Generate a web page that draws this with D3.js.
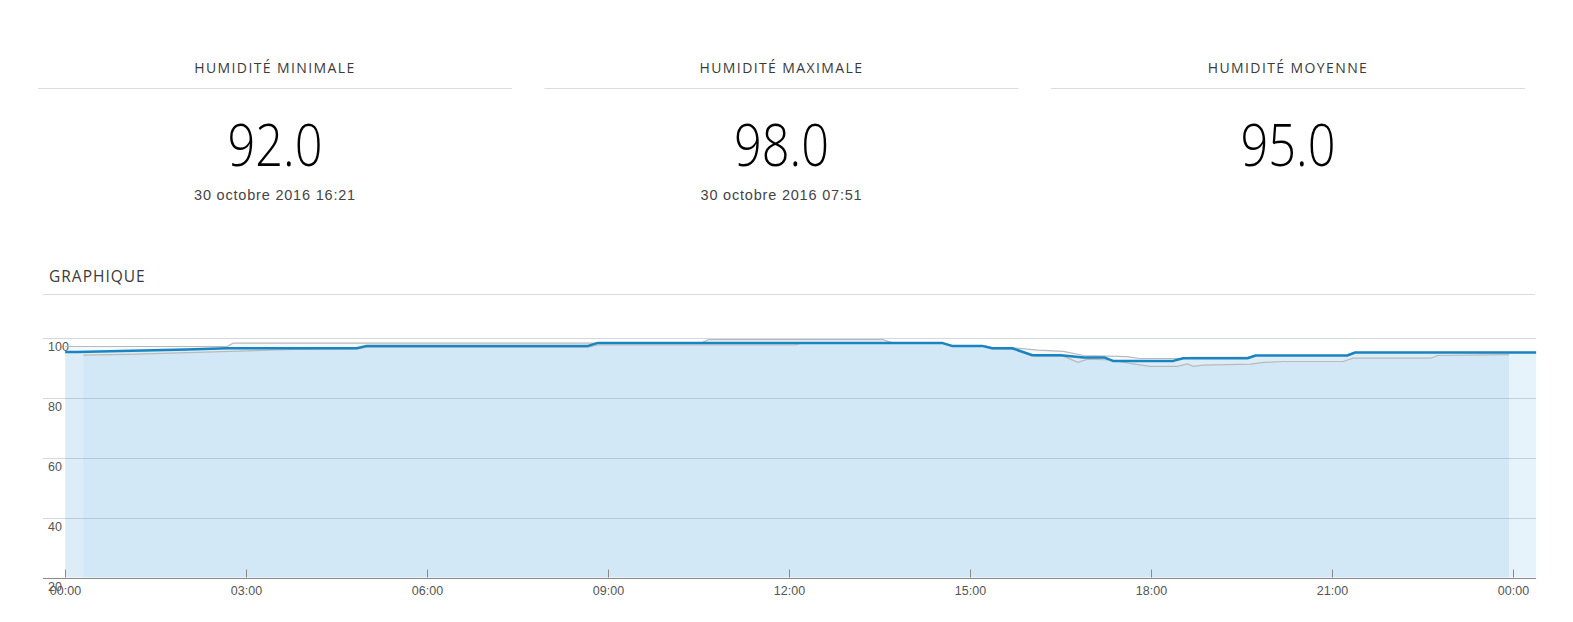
<!DOCTYPE html>
<html><head><meta charset="utf-8">
<script src="https://cdn.jsdelivr.net/npm/d3@7/dist/d3.min.js"></script>
<style>body{margin:0;background:#fff;}svg{display:block}</style>
</head><body><svg id="c" width="1573" height="622"></svg>
<script>
// ---------- data ----------
const statTitles = ["HUMIDITÉ MINIMALE", "HUMIDITÉ MAXIMALE", "HUMIDITÉ MOYENNE"];
const statValues = [92.0, 98.0, 95.0];
const statDates = ["30 octobre 2016 16:21", "30 octobre 2016 07:51", ""];
const chartTitle = "GRAPHIQUE";
const yTicks = [20, 40, 60, 80, 100];
const xTickTimes = ["00:00", "03:00", "06:00", "09:00", "12:00", "15:00", "18:00", "21:00", "24:00"];
const xTickLabels = ["00:00", "03:00", "06:00", "09:00", "12:00", "15:00", "18:00", "21:00", "00:00"];
const xDomain = ["00:00", "24:00"];

// average humidity (blue)
const avgSeries = [
  ["00:00", 95.2], ["00:12", 95.2], ["02:01", 96.0], ["02:41", 96.4], ["04:50", 96.4],
  ["05:00", 97.2], ["08:40", 97.2], ["08:50", 98.2], ["14:32", 98.2], ["14:42", 97.2],
  ["15:12", 97.2], ["15:22", 96.4], ["15:42", 96.4], ["16:02", 94.1], ["16:30", 94.1],
  ["16:53", 93.3], ["17:14", 93.3], ["17:22", 92.2], ["18:22", 92.2], ["18:32", 93.1],
  ["19:36", 93.1], ["19:44", 94.0], ["21:15", 94.0], ["21:23", 95.0], ["24:23", 95.0]
];
// maximum humidity (grey, upper)
const maxSeries = [
  ["00:00", 97.0], ["02:41", 97.0], ["02:47", 98.1], ["10:32", 98.1], ["10:40", 99.3],
  ["13:33", 99.3], ["13:43", 98.2], ["14:32", 98.2], ["14:42", 97.3], ["15:15", 97.2],
  ["15:22", 96.6], ["15:45", 96.5], ["16:08", 95.8], ["16:33", 95.4], ["16:53", 94.0],
  ["17:36", 93.6], ["17:49", 93.0], ["18:29", 93.0], ["18:39", 93.4], ["19:36", 93.4],
  ["19:44", 94.0], ["21:15", 94.0], ["21:23", 95.0], ["23:56", 95.0]
];
// minimum humidity (grey, lower)
const minSeries = [
  ["00:18", 94.1], ["01:02", 94.4], ["03:47", 96.0], ["04:50", 96.2], ["05:00", 96.8],
  ["08:40", 96.8], ["08:50", 97.5], ["12:06", 97.5], ["12:13", 98.2], ["14:32", 98.2],
  ["14:42", 97.0], ["15:15", 97.0], ["15:22", 96.2], ["15:45", 96.0], ["16:05", 93.8],
  ["16:33", 93.8], ["16:47", 91.7], ["16:57", 92.8], ["17:20", 92.5], ["17:39", 91.4],
  ["17:59", 90.4], ["18:26", 90.4], ["18:32", 90.9], ["18:36", 91.2], ["18:42", 90.4],
  ["18:52", 90.8], ["19:39", 91.1], ["19:52", 91.7], ["20:12", 92.0], ["21:11", 92.0],
  ["21:21", 93.1], ["22:38", 93.1], ["22:45", 94.0], ["23:56", 94.3]
];

// ---------- drawing ----------
const toMin = s => { const [h, m] = s.split(":").map(Number); return h * 60 + m; };
const svg = d3.select("#c");

// header statistics
const colX0 = 38, colW = 474, colGap = 32.5;
statTitles.forEach((t, i) => {
  const x0 = colX0 + i * (colW + colGap), cx = x0 + colW / 2;
  svg.append("text").attr("x", cx).attr("y", 73).attr("text-anchor", "middle")
    .attr("font-family", "'Open Sans', sans-serif").attr("font-size", 14)
    .attr("letter-spacing", 1.4).attr("fill", "#3a3a3a").text(t);
  svg.append("line").attr("x1", x0).attr("x2", x0 + colW).attr("y1", 88.5).attr("y2", 88.5)
    .attr("stroke", "#dcdcdc");
  svg.append("text").attr("x", cx).attr("y", 166).attr("text-anchor", "middle")
    .attr("font-family", "'Open Sans', sans-serif").attr("font-weight", 300)
    .attr("font-size", 58).attr("fill", "#000")
    .attr("textLength", 95).attr("lengthAdjust", "spacingAndGlyphs")
    .text(statValues[i].toFixed(1));
  if (statDates[i]) {
    svg.append("text").attr("x", cx).attr("y", 200).attr("text-anchor", "middle")
      .attr("font-family", "'Liberation Sans', Arial, sans-serif").attr("font-size", 14.5)
      .attr("letter-spacing", 0.8).attr("fill", "#444").text(statDates[i]);
  }
});

svg.append("text").attr("x", 49).attr("y", 282)
  .attr("font-family", "'Open Sans', sans-serif").attr("font-size", 15.5)
  .attr("letter-spacing", 1).attr("fill", "#3a3a3a").text(chartTitle);
svg.append("line").attr("x1", 43).attr("x2", 1535).attr("y1", 294.5).attr("y2", 294.5)
  .attr("stroke", "#dcdcdc");

// chart
const x = d3.scaleLinear().domain(xDomain.map(toMin)).range([65.2, 1513]);
const y = d3.scaleLinear().domain([20, 100]).range([577.5, 337.5]);
const blue = "rgb(24,132,193)";
const gx0 = 43, gx1 = x(toMin(avgSeries[avgSeries.length - 1][0]));

const area = d3.area().x(d => x(toMin(d[0]))).y0(y(20)).y1(d => y(d[1]));
const line = d3.line().x(d => x(toMin(d[0]))).y(d => y(d[1]));

svg.append("path").datum(avgSeries).attr("d", area).attr("fill", "rgba(20,140,210,0.1)");
svg.append("path").datum(maxSeries).attr("d", area).attr("fill", "rgba(20,140,210,0.05)");
svg.append("path").datum(minSeries).attr("d", area).attr("fill", "rgba(20,140,210,0.045)");

// grid
svg.selectAll(".grid").data(yTicks.filter(v => v > 20)).enter().append("line")
  .attr("x1", gx0).attr("x2", gx1).attr("y1", d => Math.round(y(d)) + 0.5).attr("y2", d => Math.round(y(d)) + 0.5)
  .attr("stroke", "rgba(110,130,150,0.3)");
svg.append("line").attr("x1", gx0).attr("x2", gx1).attr("y1", Math.round(y(20)) + 0.5).attr("y2", Math.round(y(20)) + 0.5)
  .attr("stroke", "#8a8a8a");

// y labels
svg.selectAll(".yl").data(yTicks).enter().append("text")
  .attr("x", 48).attr("y", d => y(d) + 13)
  .attr("font-family", "'Liberation Sans', Arial, sans-serif").attr("font-size", 12.5)
  .attr("fill", "#555").text(d => d);

// x ticks + labels
xTickTimes.forEach((t, i) => {
  const px = Math.round(x(toMin(t))) + 0.5;
  svg.append("line").attr("x1", px).attr("x2", px).attr("y1", y(20) - 8).attr("y2", y(20))
    .attr("stroke", "#8a8a8a");
  svg.append("text").attr("x", px).attr("y", 595).attr("text-anchor", "middle")
    .attr("font-family", "'Liberation Sans', Arial, sans-serif").attr("font-size", 12.5)
    .attr("fill", "#555").text(xTickLabels[i]);
});

// lines
svg.append("path").datum(maxSeries).attr("d", line).attr("fill", "none")
  .attr("stroke", "#b9b9b9").attr("stroke-width", 1.2);
svg.append("path").datum(minSeries).attr("d", line).attr("fill", "none")
  .attr("stroke", "#b9b9b9").attr("stroke-width", 1.2);
svg.append("path").datum(avgSeries).attr("d", line).attr("fill", "none")
  .attr("stroke", blue).attr("stroke-width", 2.5).attr("stroke-linejoin", "round");
</script></body></html>
